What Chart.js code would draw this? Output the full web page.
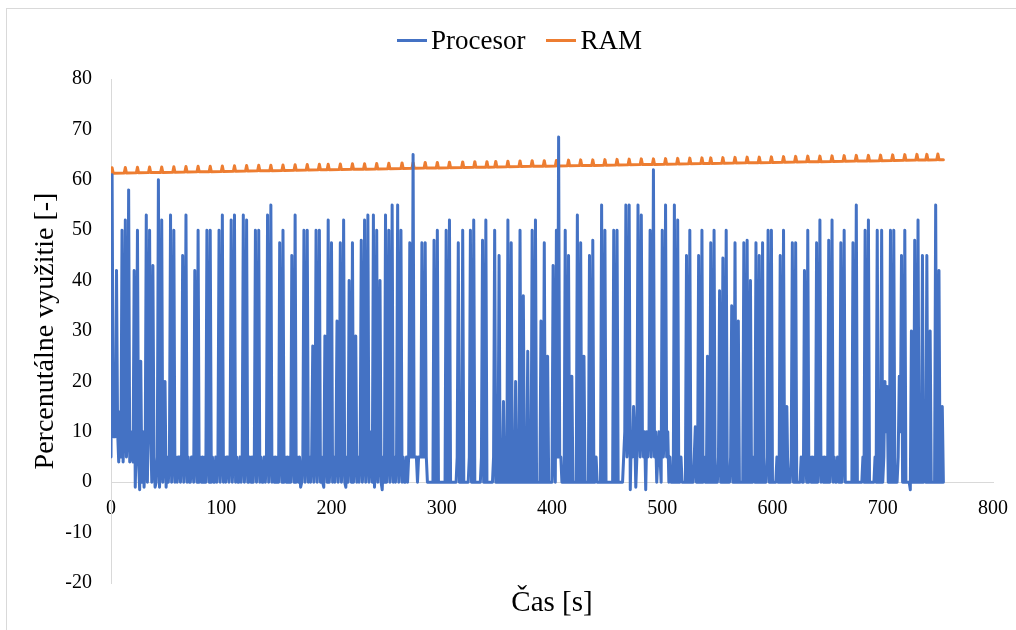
<!DOCTYPE html>
<html>
<head>
<meta charset="utf-8">
<script src="https://cdn.jsdelivr.net/npm/chart.js@4/dist/chart.umd.min.js"></script>
<style>
  html, body { margin: 0; padding: 0; background: #fff; overflow: hidden; }
  #wrap { position: relative; width: 1016px; height: 630px; }
  #frame { position: absolute; left: 6px; top: 8px; width: 1200px; height: 800px;
           border-top: 1px solid #d9d9d9; border-left: 1px solid #d9d9d9; }
  #chart { position: absolute; left: 0; top: 0; }
  #legend { position: absolute; left: 397px; top: 24px; display: flex; align-items: center;
            font: 27px "Liberation Serif", "Times New Roman", serif; line-height: 32px; color: #000; }
  .item { display: flex; align-items: center; margin-right: 21px; }
  .swatch { width: 30px; height: 3px; margin-right: 4px; }
</style>
</head>
<body>
<div id="wrap">
  <div id="frame"></div>
  <canvas id="chart" width="1016" height="630"></canvas>
  <div id="legend"></div>
</div>
<script>
const FONT = '"Liberation Serif", "Times New Roman", serif';

// Processor load [%], one sample per second from t = 0 s
const cpuLoad = [
  5, 61, 9, 15, 9, 42, 10, 4, 14, 5,
  50, 4, 12, 52, 5, 10, 58, 4, 10, 5,
  4, 42, -1, 10, 50, 4, -1.5, 24, 0, 10,
  -1, 5, 53, 0, 15, 50, 10, 0, 43, 5,
  -1, 0, 5, 60, -1, 5, 52, 0, 5, 20,
  -1, 5, 0, 5, 53, 0, 5, 50, 0, 5,
  0, 5, 5, 0, 5, 45, 0, 5, 53, 0,
  5, 0, 0, 5, 5, 0, 42, 5, 0, 50,
  0, 5, 0, 5, 0, 5, 0, 50, 5, 0,
  50, 0, 5, 0, 0, 5, 0, 5, 50, 0,
  5, 53, 0, 5, 0, 5, 5, 0, 5, 52,
  0, 5, 53, 0, 5, 0, 0, 5, 0, 5,
  53, 0, 5, 52, 0, 0, 5, 0, 5, 0,
  5, 50, 0, 5, 50, 0, 5, 0, 0, 5,
  0, 5, 53, 0, 5, 55, 0, 5, 0, 5,
  0, 5, 0, 47.5, 5, 0, 50, 0, 5, 0,
  5, 0, 5, 0, 45, 5, 0, 53, 0, 5,
  0, 5, -1, 0, 5, 50, 0, 5, 50, 0,
  5, 0, 5, 27, 0, 5, 50, 0, 5, 50,
  0, 5, 0, -1, 29, 5, 0, 52, 0, 5,
  47.5, 0, 5, 0, 5, 32, 0, 5, 47.5, 0,
  5, 52, 0, -1, 5, 0, 40, 5, 0, 47.5,
  0, 5, 29, 0, 5, 0, 5, 48, 0, 5,
  52, 0, 5, 53, 0, 5, 10, 0, 53, -1,
  5, 50, 0, 5, 40, 0, -1.5, 5, 0, 53,
  0, 5, 50, 0, 5, 55, 0, 5, 0, 5,
  55, 0, 5, 50, 0, 5, 0, 0, 5, 0,
  5, 47.5, 5, 5, 65, 5, 5, 5, 0, 5,
  5, 5, 47.5, 5, 5, 47.5, 5, 0, 0, 0,
  0, 0, 0, 48, 0, 0, 50, 0, 0, 0,
  0, 0, 0, 0, 50, 0, 0, 52, 0, 0,
  0, 0, 0, 0, 5, 47.5, 0, 0, 0, 50,
  0, 0, 0, 0, 0, 5, 50, 0, 0, 52,
  0, 0, 0, 0, 0, 0, 5, 48, 0, 0,
  52, 0, 0, 0, 0, 0, 0, 5, 50, 0,
  0, 0, 45, 0, 0, 0, 16, 0, 0, 0,
  52, 0, 0, 47.5, 0, 0, 0, 20, 0, 0,
  0, 50, 0, 0, 37, 0, 0, 0, 26, 0,
  0, 0, 50, 0, 0, 52, 0, 0, 0, 0,
  32, 0, 0, 47.5, 0, 0, 25, 0, 0, 0,
  0, 43, 5, 0, 50, 5, 68.5, 5, 5, 0,
  0, 0, 50, 0, 0, 45, 0, 0, 21, 0,
  0, 0, 0, 53, 0, 0, 47.5, 0, 0, 25,
  0, 0, 0, 0, 45, 0, 0, 48, 0, 0,
  5, 0, 0, 0, 0, 55, 0, 0, 50, 0,
  0, 0, 0, 0, 0, 0, 50, 0, 0, 50,
  0, 0, 0, 0, 0, 5, 10, 55, 5, 10,
  55, -1.5, 10, 5, 15, 10, -1, 5, 55, 10,
  5, 53, 10, 5, 10, -1.5, 10, 5, 10, 50,
  5, 10, 62, 5, 10, 0, 5, 10, 5, 0,
  50, 5, 10, 55, 5, 10, 0, 5, 0, 0,
  0, 55, 0, 0, 52, 0, 0, 5, 0, 0,
  0, 0, 45, 0, 0, 50, 0, 0, 0, 5,
  11, 0, 0, 45, 0, 0, 50, 0, 5, 0,
  0, 25, 0, 0, 47.5, 0, 0, 50, 0, 0,
  0, 5, 38, 0, 0, 44.5, 0, 0, 50, 0,
  0, 0, 5, 35, 0, 0, 47.5, 0, 0, 32,
  0, 0, 0, 0, 47.5, 0, 0, 48, 0, 0,
  40, 0, 0, 5, 0, 47.5, 0, 0, 45, 0,
  0, 47.5, 0, 0, 0, 5, 50, 0, 0, 50,
  0, 0, 0, 0, 5, 0, 0, 45, 0, 0,
  50, 0, 0, 15, 0, 0, 0, 5, 47.5, 0,
  0, 47.5, 0, 0, 0, 0, 5, 0, 0, 42,
  5, 0, 50, 0, 5, 0, 5, 0, 5, 0,
  47.5, 0, 5, 52, 0, 5, 0, 5, 0, 5,
  0, 48, 0, 5, 52, 0, 5, 0, 0, 5,
  0, 0, 47.5, 0, 5, 50, 0, 0, 0, 0,
  0, 0, 0, 47.5, 0, 0, 55, 0, 0, 0,
  0, 0, 5, 0, 50, 0, 0, 52, 0, 0,
  0, 0, 0, 5, 0, 50, 0, 0, 0, 50,
  0, 5, 20, 10, 19, 0, 0, 50, 0, 0,
  50, 0, 0, 0, 5, 21, 10, 45, 0, 0,
  50, 0, 0, 0, 0, -1.5, 30, 0, 0, 48,
  0, 0, 52, 0, 0, 0, 45, 0, 5, 0,
  45, 0, 0, 30, 0, 0, 0, 0, 55, 0,
  0, 42, 0, 0, 15, 0
];

// RAM usage [%], sampled around each small bump
const ramTime = [
  0, 1, 2, 12, 13, 14, 23, 24, 25, 34, 35, 36, 45, 46, 47,
  56, 57, 58, 67, 68, 69, 78, 79, 80, 89, 90, 91, 100, 101, 102,
  111, 112, 113, 122, 123, 124, 133, 134, 135, 144, 145, 146, 155, 156, 157,
  166, 167, 168, 177, 178, 179, 188, 189, 190, 196, 197, 198, 207, 208, 209,
  218, 219, 220, 229, 230, 231, 240, 241, 242, 251, 252, 253, 263, 264, 265,
  273, 274, 275, 284, 285, 286, 295, 296, 297, 306, 307, 308, 318, 319, 320,
  329, 330, 331, 340, 341, 342, 348, 349, 350, 359, 360, 361, 370, 371, 372,
  381, 382, 383, 392, 393, 394, 403, 404, 405, 414, 415, 416, 425, 426, 427,
  436, 437, 438, 447, 448, 449, 458, 459, 460, 469, 470, 471, 480, 481, 482,
  491, 492, 493, 502, 503, 504, 513, 514, 515, 524, 525, 526, 535, 536, 537,
  543, 544, 545, 554, 555, 556, 565, 566, 567, 576, 577, 578, 587, 588, 589,
  598, 599, 600, 609, 610, 611, 620, 621, 622, 631, 632, 633, 642, 643, 644,
  653, 654, 655, 664, 665, 666, 675, 676, 677, 686, 687, 688, 697, 698, 699,
  708, 709, 710, 719, 720, 721, 730, 731, 732, 739, 740, 741, 749, 750, 751,
  755
];
const ramLoad = [
  61.3, 62.4, 61.3, 61.35, 62.45, 61.35, 61.4, 62.5, 61.4, 61.45, 62.55, 61.45, 61.45, 62.55, 61.45,
  61.5, 62.6, 61.5, 61.55, 62.65, 61.55, 61.6, 62.7, 61.6, 61.6, 62.7, 61.6, 61.65, 62.75, 61.65,
  61.7, 62.8, 61.7, 61.75, 62.85, 61.75, 61.8, 62.9, 61.8, 61.8, 62.9, 61.8, 61.85, 62.95, 61.85,
  61.9, 63.0, 61.9, 61.95, 63.05, 61.95, 62.0, 63.1, 62.0, 62.0, 63.1, 62.0, 62.05, 63.15, 62.05,
  62.1, 63.2, 62.1, 62.1, 63.2, 62.1, 62.15, 63.25, 62.15, 62.2, 63.3, 62.2, 62.25, 63.35, 62.25,
  62.3, 63.4, 62.3, 62.35, 63.45, 62.35, 62.35, 63.45, 62.35, 62.4, 63.5, 62.4, 62.45, 63.55, 62.45,
  62.5, 63.6, 62.5, 62.5, 63.6, 62.5, 62.55, 63.65, 62.55, 62.6, 63.7, 62.6, 62.65, 63.75, 62.65,
  62.7, 63.8, 62.7, 62.7, 63.8, 62.7, 62.75, 63.85, 62.75, 62.8, 63.9, 62.8, 62.85, 63.95, 62.85,
  62.85, 63.95, 62.85, 62.9, 64.0, 62.9, 62.95, 64.05, 62.95, 63.0, 64.1, 63.0, 63.05, 64.15, 63.05,
  63.05, 64.15, 63.05, 63.1, 64.2, 63.1, 63.15, 64.25, 63.15, 63.2, 64.3, 63.2, 63.25, 64.35, 63.25,
  63.25, 64.35, 63.25, 63.3, 64.4, 63.3, 63.35, 64.45, 63.35, 63.4, 64.5, 63.4, 63.4, 64.5, 63.4,
  63.45, 64.55, 63.45, 63.5, 64.6, 63.5, 63.55, 64.65, 63.55, 63.6, 64.7, 63.6, 63.6, 64.7, 63.6,
  63.65, 64.75, 63.65, 63.7, 64.8, 63.7, 63.75, 64.85, 63.75, 63.75, 64.85, 63.75, 63.8, 64.9, 63.8,
  63.85, 64.95, 63.85, 63.9, 65.0, 63.9, 63.95, 65.05, 63.95, 63.95, 65.05, 63.95, 64.0, 65.1, 64.0,
  64.0
];

const xTicks = { min: 0, max: 800, step: 100 };
const yTicks = { min: -20, max: 80, step: 10 };

const cpuPoints = cpuLoad.map((v, i) => ({ x: i, y: v }));
const ramPoints = ramTime.map((t, i) => ({ x: t, y: ramLoad[i] }));

const ctx = document.getElementById("chart").getContext("2d");
const chart = new Chart(ctx, {
  type: "line",
  data: {
    datasets: [
      {
        label: "Procesor",
        data: cpuPoints,
        borderColor: "#4472C4",
        backgroundColor: "#4472C4",
        borderWidth: 3,
        borderJoinStyle: "round",
        borderCapStyle: "round",
        pointRadius: 0,
        tension: 0,
      },
      {
        label: "RAM",
        data: ramPoints,
        borderColor: "#ED7D31",
        backgroundColor: "#ED7D31",
        borderWidth: 3,
        borderJoinStyle: "round",
        borderCapStyle: "round",
        pointRadius: 0,
        tension: 0,
      },
    ],
  },
  options: {
    responsive: false,
    animation: false,
    layout: { padding: { top: 79, right: 23, bottom: 9, left: 0 } },
    plugins: { legend: { display: false }, tooltip: { enabled: false } },
    scales: {
      x: {
        type: "linear", position: "bottom",
        min: xTicks.min, max: xTicks.max,
        ticks: { display: false },
        grid: { display: false, drawTicks: false },
        border: { display: false },
        title: { display: true, text: "Čas [s]", color: "#000",
                 font: { family: FONT, size: 29 }, padding: { top: 3.2, bottom: 0 } },
      },
      // axis line + labels crossing at y = 0
      x2: {
        type: "linear", position: { y: 0 },
        min: xTicks.min, max: xTicks.max,
        ticks: { stepSize: xTicks.step, padding: 15, color: "#000", font: { family: FONT, size: 20 } },
        grid: { display: false, drawTicks: false },
        border: { color: "#d9d9d9", width: 1 },
        afterFit: s => { s.paddingLeft = 0; s.paddingRight = 0; },
      },
      y: {
        min: yTicks.min, max: yTicks.max,
        ticks: { stepSize: yTicks.step, padding: 19, color: "#000", font: { family: FONT, size: 20 } },
        grid: { display: false, drawTicks: false },
        border: { color: "#d9d9d9", width: 1 },
        title: { display: true, text: "Percenutálne využitie [-]", color: "#000",
                 font: { family: FONT, size: 28 }, padding: { top: 29, bottom: 0 } },
        afterFit: s => { s.width = 111; },
      },
    },
  },
});

// Legend
document.getElementById("legend").innerHTML = chart.data.datasets.map(ds => `
  <div class="item">
    <div class="swatch" style="background:${ds.borderColor}"></div>
    <span>${ds.label}</span>
  </div>`).join("");
</script>
</body>
</html>
